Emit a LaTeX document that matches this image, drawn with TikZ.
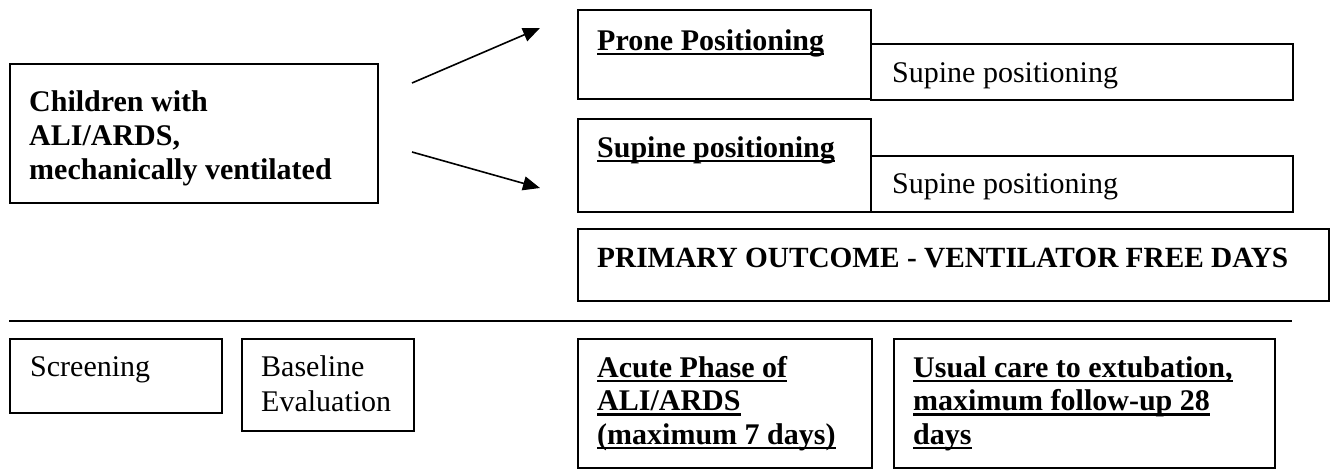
\documentclass[tikz,border=0pt]{standalone}
\usepackage{fontspec}
\setmainfont{Liberation Serif}
\usetikzlibrary{arrows.meta}
\begin{document}
\begin{tikzpicture}[x=1pt,y=-1pt,
  box/.style={draw, line width=1.5pt, anchor=north west, inner sep=0pt, rectangle},
  txt/.style={anchor=base west, inner sep=0pt, font=\fontsize{30}{34}\selectfont},
  btxt/.style={anchor=base west, inner sep=0pt, font=\fontsize{30}{34}\selectfont\bfseries},
  uline/.style={line width=2.5pt},
  arr/.style={line width=1.6pt, -{Triangle[length=17pt,width=14pt]}}]
\useasboundingbox (0,0) rectangle (1336,469);
% boxes
\node[box, minimum width=368pt, minimum height=139pt] (lb) at (9,63) {};
\node[box, minimum width=293pt, minimum height=89pt] (pr) at (577,9) {};
\node[box, minimum width=422pt, minimum height=56pt] (prR) at (870,43) {};
\node[box, minimum width=293pt, minimum height=93pt] (su) at (577,118) {};
\node[box, minimum width=422pt, minimum height=56pt] (suR) at (870,155) {};
\node[box, minimum width=751pt, minimum height=72pt] (po) at (577,228) {};
\node[box, minimum width=212pt, minimum height=74pt] (sc) at (9,338) {};
\node[box, minimum width=172pt, minimum height=92pt] (bl) at (241,338) {};
\node[box, minimum width=294pt, minimum height=129pt] (ac) at (577,338) {};
\node[box, minimum width=381pt, minimum height=129pt] (uc) at (893,338) {};
% texts
\node[btxt] (lb1) at (29,111) {Children with};
\node[btxt] (lb2) at (29,145) {ALI/ARDS,};
\node[btxt] (lb3) at (29,179) {mechanically ventilated};
\node[btxt] (prt) at (597,50) {Prone Positioning};
\node[txt] (prRt) at (892,82) {Supine positioning};
\node[btxt] (sut) at (597,157) {Supine positioning};
\node[txt] (suRt) at (892,193) {Supine positioning};
\node[btxt, font=\fontsize{29.3}{34}\selectfont\bfseries] (pot) at (597,267) {PRIMARY OUTCOME - VENTILATOR FREE DAYS};
\node[txt] (sct) at (30,376) {Screening};
\node[txt] (bl1) at (261,376) {Baseline};
\node[txt] (bl2) at (261,411) {Evaluation};
\node[btxt] (ac1) at (597,377) {Acute Phase of};
\node[btxt] (ac2) at (597,410.5) {ALI/ARDS};
\node[btxt] (ac3) at (597,444) {(maximum 7 days)};
\node[btxt] (uc1) at (913,377) {Usual care to extubation,};
\node[btxt] (uc2) at (913,410.5) {maximum follow-up 28};
\node[btxt] (uc3) at (913,444) {days};
% underlines
\foreach \n in {prt,sut,ac1,ac2,ac3,uc1,uc2,uc3}
  \draw[uline] ([yshift=-3.8pt]\n.base west) -- ([yshift=-3.8pt]\n.base east);
% divider
\coordinate (d1) at (9,321);
\coordinate (d2) at (1292,321);
\draw[line width=1.5pt] (d1) -- (d2);
% arrows
\coordinate (a1s) at (412,83);
\coordinate (a1e) at (540,28);
\coordinate (a2s) at (412,152);
\coordinate (a2e) at (540,188);
\draw[arr] (a1s) -- (a1e);
\draw[arr] (a2s) -- (a2e);
\end{tikzpicture}
\end{document}
